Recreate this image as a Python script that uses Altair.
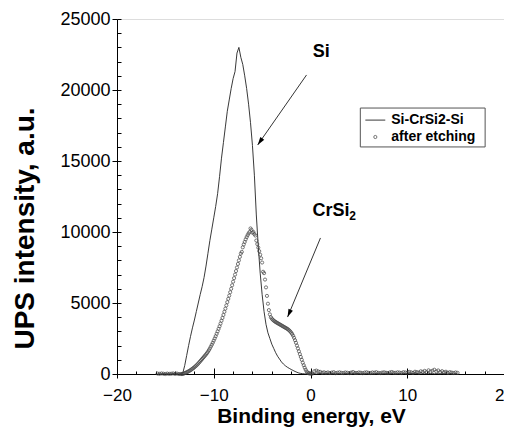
import altair as alt
import pandas as pd

# ---------------- data ----------------
# Si-CrSi2-Si (solid line)
si_left = [20, 0, 10, 30, 0, 20, 10, 0, 30, 10, 20, 0]            # -15.8 .. -13.6, step 0.2
si_peak = [0, 60, 600, 1300, 2000, 2650, 3250, 3800, 4400, 5000,
           5600, 6150, 6800, 7600, 8500, 9400, 10200, 11000, 11800, 12700,
           13900, 15200, 16300, 17400, 18500, 19300, 20100, 20800, 21300, 22600,
           23000, 22300, 21800, 21000, 20100, 19000, 17700, 16100, 14000, 11200,
           9000, 7100, 5600, 4400, 3500, 2900, 2500, 2100, 1800, 1500,
           1250, 1050, 850, 700, 580, 480, 400, 320, 250, 180,
           120, 70, 40, 20, 10, 0, 10, 0]                            # -13.4 .. 0.0, step 0.2
si_right = [10, 30, 0, 20, 40, 10, 0, 30, 20, 10, 40, 0, 20, 30, 10, 0, 20, 50, 10, 30,
            0, 20, 10, 40, 20, 0, 30, 10, 20, 40, 10, 0, 30, 20, 50, 10, 20, 0, 30, 40,
            10, 20, 60, 30, 10, 40, 20, 50, 30, 10, 60, 40, 20, 70, 30, 50, 80, 40, 60, 30,
            50, 20, 40, 10, 30, 20, 0, 30, 10, 20, 0, 10, 30, 0, 20, 10]  # 0.2 .. , step 0.2

# after etching (open circles)
et_left = [30, 10, 40, 20, 0, 30, 10, 20, 40, 10, 30, 0]          # -15.8 .. -13.6, step 0.2
et_peak = [0, 0, 10, 30, 60, 90, 120, 150, 190, 230,
           270, 320, 370, 420, 480, 540, 600, 670, 740, 820,
           900, 980, 1060, 1140, 1220, 1300, 1380, 1470, 1570, 1680,
           1800, 1930, 2060, 2200, 2350, 2500, 2660, 2830, 3000, 3180,
           3360, 3550, 3750, 3950, 4160, 4380, 4600, 4830, 5060, 5290,
           5520, 5760, 6000, 6250, 6500, 6750, 7000, 7250, 7500, 7750,
           8000, 8250, 8480, 8600, 8920, 9120, 9300, 9480, 9640, 9780,
           9900, 10000, 10250, 10150, 9950, 10000, 9850, 9750, 9400, 9150,
           8900, 8650, 8400, 8150, 7850, 7200, 7100, 6650, 6100, 5500,
           4950, 4500, 4200, 4000, 3900, 3820, 3760, 3710, 3660, 3620,
           3580, 3540, 3500, 3460, 3420, 3380, 3340, 3300, 3260, 3220,
           3180, 3130, 3070, 3000, 2920, 2820, 2700, 2550, 2380, 2200,
           2000, 1800, 1600, 1400, 1200, 1000, 800, 620, 450, 300,
           180, 100, 60, 40, 30, 30, 30]                              # -13.4 .. 0.2, step 0.1
et_right = [200, 240, 180, 150, 90, 120, 80, 110, 70, 100, 130, 60, 90, 120, 80, 70, 110, 90, 60, 100,
            140, 80, 70, 110, 90, 60, 100, 120, 80, 70, 110, 90, 130, 80, 60, 100, 120, 90, 70, 110,
            140, 90, 80, 120, 100, 70, 130, 110, 90, 150, 120, 80, 160, 130, 100, 190, 150, 220, 130, 260,
            170, 230, 300, 180, 250, 140, 200, 120, 160, 90, 130, 100, 70, 110, 80]  # 0.4 .. , step 0.2

si_energy = ([round(-15.8 + 0.2 * i, 2) for i in range(len(si_left))]
             + [round(-13.4 + 0.2 * i, 2) for i in range(len(si_peak))]
             + [round(0.2 + 0.2 * i, 2) for i in range(len(si_right))])
et_energy = ([round(-15.8 + 0.2 * i, 2) for i in range(len(et_left))]
             + [round(-13.4 + 0.1 * i, 2) for i in range(len(et_peak))]
             + [round(0.4 + 0.2 * i, 2) for i in range(len(et_right))])

line_df = pd.DataFrame({"e": si_energy, "v": si_left + si_peak + si_right})
dots_df = pd.DataFrame({"e": et_energy, "v": et_left + et_peak + et_right})

x_major = [-20, -10, 0, 10, 20]
x_minor = [-18, -16, -14, -12, -8, -6, -4, -2, 2, 4, 6, 8, 12, 14, 16, 18]
y_major = [0, 5000, 10000, 15000, 20000, 25000]
y_minor = [v for v in range(1000, 25000, 1000)]

# annotations (labels and arrows)
labels_df = pd.DataFrame({
    "t": ["Si", "CrSi", "2"],
    "x": [1.1, 2.13, 4.36],
    "y": [22650, 11480, 11100],
    "s": [18, 18, 12],
})
arrows_df = pd.DataFrame({
    "x": [-0.41, 1.03], "y": [21060, 9580],
    "x2": [-5.46, -2.37], "y2": [16130, 4010],
    "ang": [215, 203],
})

# legend
legend_box = pd.DataFrame({"x": [5.15], "x2": [18.05], "y": [18730], "y2": [15990]})
legend_line = pd.DataFrame({"x": [5.67], "x2": [7.73], "y": [17880]})
legend_pt = pd.DataFrame({"x": [6.7], "y": [16690]})
legend_txt = pd.DataFrame({"t": ["Si-CrSi2-Si", "after etching"], "x": [8.35, 8.35], "y": [17880, 16690]})

# ---------------- chart ----------------
FONT = "Liberation Sans"
xs = alt.Scale(domain=[-20, 20], nice=False, zero=False)
ys = alt.Scale(domain=[0, 25000], nice=False)

x_main_axis = alt.Axis(orient="bottom", values=x_major, tickSize=4, tickColor="black",
                       domainColor="black", labelPadding=9, labelFontSize=17, labelColor="black",
                       labelFont=FONT, format="d", labelFlush=False, labelOverlap=False, grid=False,
                       title="Binding energy, eV", titleFont=FONT, titleFontSize=21,
                       titleFontWeight="bold", titleColor="black", titleBaseline="alphabetic",
                       titleY=48, titleX=194)
y_main_axis = alt.Axis(orient="left", values=y_major, tickSize=5, tickColor="black",
                       domainColor="black", labelPadding=2, labelFontSize=18, labelColor="black",
                       labelFont=FONT, format="d", labelFlush=False, labelOverlap=False, grid=False,
                       title="UPS intensity, a.u.", titleFont=FONT, titleFontSize=28,
                       titleFontWeight="bold", titleColor="black", titleBaseline="alphabetic",
                       titleX=-84, titleY=209)
x_in_minor = alt.Axis(orient="bottom", values=x_minor, tickSize=3, offset=-3, domain=False,
                      labels=False, title="", grid=False, tickColor="black")
y_in_minor = alt.Axis(orient="left", values=y_minor + y_major, tickSize=4, offset=-4, domain=False,
                      labels=False, title="", grid=False, tickColor="black")
x_in_major = alt.Axis(orient="bottom", values=x_major, tickSize=6, offset=-6, domain=False,
                      labels=False, title="", grid=False, tickColor="black")

line = alt.Chart(line_df).mark_line(color="#222222", strokeWidth=0.9).encode(
    x=alt.X("e:Q", scale=xs, axis=x_main_axis),
    y=alt.Y("v:Q", scale=ys, axis=y_main_axis),
)
dots = alt.Chart(dots_df).mark_point(shape="circle", filled=False, size=10, strokeWidth=0.7,
                                     color="#404040", opacity=1).encode(
    x=alt.X("e:Q", scale=xs, axis=x_in_minor),
    y=alt.Y("v:Q", scale=ys, axis=y_in_minor),
)
txt = alt.Chart(labels_df).mark_text(font=FONT, fontWeight="bold", color="black",
                                     align="center", baseline="middle").encode(
    x=alt.X("x:Q", scale=xs, axis=x_in_major),
    y=alt.Y("y:Q", scale=ys, axis=None),
    text="t:N",
    size=alt.Size("s:Q", scale=None),
)
arrow_lines = alt.Chart(arrows_df).mark_rule(color="black", strokeWidth=0.8).encode(
    x=alt.X("x:Q", scale=xs, axis=None), y=alt.Y("y:Q", scale=ys, axis=None),
    x2="x2:Q", y2="y2:Q",
)
arrow_heads = alt.Chart(arrows_df).mark_point(
    shape="M0,0 L0.6,2 L-0.6,2 Z", filled=True, color="black", size=64, opacity=1
).encode(
    x=alt.X("x2:Q", scale=xs, axis=None), y=alt.Y("y2:Q", scale=ys, axis=None),
    angle=alt.Angle("ang:Q", scale=None),
)
lg_box = alt.Chart(legend_box).mark_rect(fill="white", stroke="#555555", strokeWidth=1).encode(
    x=alt.X("x:Q", scale=xs, axis=None), x2="x2:Q",
    y=alt.Y("y:Q", scale=ys, axis=None), y2="y2:Q",
)
lg_line = alt.Chart(legend_line).mark_rule(color="#222222", strokeWidth=0.9).encode(
    x=alt.X("x:Q", scale=xs, axis=None), x2="x2:Q", y=alt.Y("y:Q", scale=ys, axis=None),
)
lg_pt = alt.Chart(legend_pt).mark_point(shape="circle", filled=False, size=10, strokeWidth=0.7,
                                        color="#404040", opacity=1).encode(
    x=alt.X("x:Q", scale=xs, axis=None), y=alt.Y("y:Q", scale=ys, axis=None),
)
lg_txt = alt.Chart(legend_txt).mark_text(font=FONT, fontWeight="bold", fontSize=14, color="black",
                                         align="left", baseline="middle").encode(
    x=alt.X("x:Q", scale=xs, axis=None), y=alt.Y("y:Q", scale=ys, axis=None), text="t:N",
)

chart = alt.layer(
    line, dots, txt, arrow_lines, arrow_heads, lg_box, lg_line, lg_pt, lg_txt
).resolve_axis(x="independent", y="independent").properties(
    width=387, height=355,
    padding={"left": 109, "top": 11, "right": 0, "bottom": 55},
    autosize=alt.AutoSizeParams(type="none"),
).configure_view(stroke="#666666", strokeWidth=1.2).configure(background="white")

chart.save("out.html", embed_options={"renderer": "svg", "actions": False})
